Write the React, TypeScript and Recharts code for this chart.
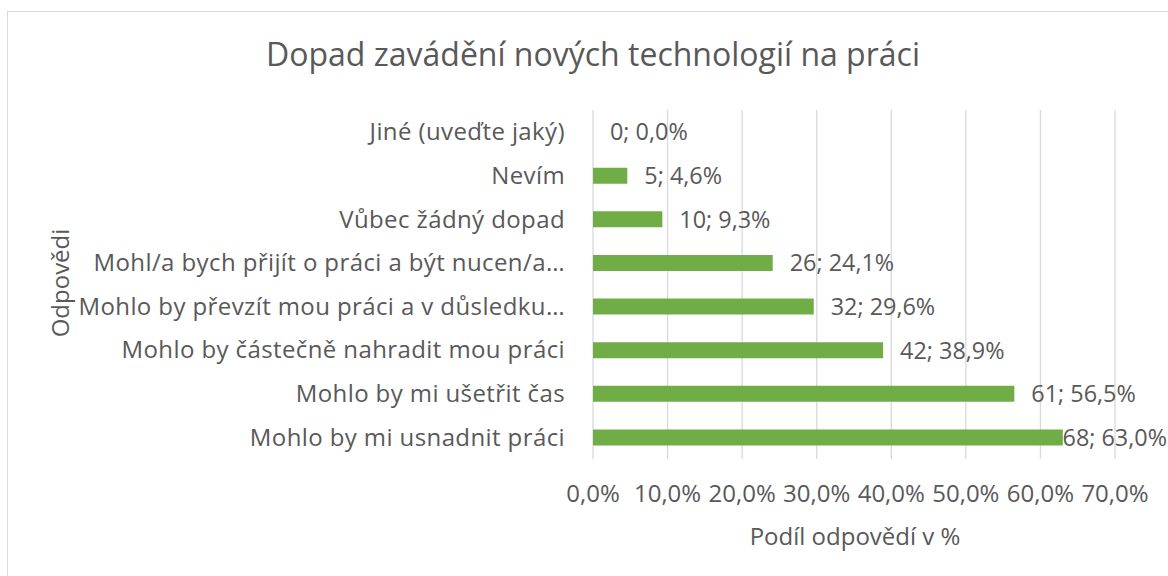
import React from 'react';
import { BarChart, Bar, XAxis, YAxis, CartesianGrid, LabelList } from 'recharts';

const categories = [
  'Jiné (uveďte jaký)',
  'Nevím',
  'Vůbec žádný dopad',
  'Mohl/a bych přijít o práci a být nucen/a…',
  'Mohlo by převzít mou práci a v důsledku…',
  'Mohlo by částečně nahradit mou práci',
  'Mohlo by mi ušetřit čas',
  'Mohlo by mi usnadnit práci',
];
const counts = [0, 5, 10, 26, 32, 42, 61, 68];
const percents = [0, 4.6, 9.3, 24.1, 29.6, 38.9, 56.5, 63.0];
const xTicks = [0, 10, 20, 30, 40, 50, 60, 70];

const title = 'Dopad zavádění nových technologií na práci';
const xTitle = 'Podíl odpovědí v %';
const yTitle = 'Odpovědi';

const data = categories.map((name, i) => ({ name, pct: percents[i], count: counts[i] }));

const FONT = "'Open Sans', sans-serif";
const TEXT = '#595959';
const GRID = '#d9d9d9';
const BAR = '#70ad47';
const LABEL_MAX_END = 1167;
const LABEL_APPROX_W = 104;

const fmtPct = (v: number) => v.toFixed(1).replace('.', ',') + '%';

const ValueLabel = (props: any) => {
  const { x, y, width, height, index } = props;
  const natural = Number(x) + Number(width) + 17;
  const overflow = natural + LABEL_APPROX_W > LABEL_MAX_END;
  const ty = Number(y) + Number(height) / 2;
  return (
    <text
      x={overflow ? LABEL_MAX_END : natural}
      y={ty}
      dy="0.36em"
      fill={TEXT}
      fontSize={23.4}
      fontFamily={FONT}
      textAnchor={overflow ? 'end' : 'start'}
    >
      {`${counts[index]}; ${fmtPct(percents[index])}`}
    </text>
  );
};

export default function App() {
  return (
    <div style={{ position: 'fixed', left: 0, top: 0, width: 1168, height: 576, overflow: 'hidden', background: '#fff' }}>
      <div style={{ position: 'absolute', left: 7, top: 11, width: 1300, height: 700, border: `1px solid ${GRID}`, boxSizing: 'border-box' }} />
      <div style={{ position: 'absolute', left: 0, top: 0 }}>
        <BarChart
          width={1168}
          height={576}
          data={data}
          layout="vertical"
          margin={{ top: 110, right: 53, bottom: 77, left: 20 }}
          barSize={16}
        >
          <CartesianGrid horizontal={false} vertical={true} stroke={GRID} strokeWidth={1.3} />
          <XAxis
            type="number"
            domain={[0, 70]}
            ticks={xTicks}
            interval={0}
            tickFormatter={(v: number) => fmtPct(v)}
            axisLine={false}
            tickLine={false}
            tickSize={0}
            tickMargin={26}
            height={40}
            tick={{ fill: TEXT, fontSize: 24, fontFamily: FONT }}
          />
          <YAxis
            type="category"
            dataKey="name"
            width={573}
            axisLine={false}
            tickLine={false}
            tickSize={0}
            tickMargin={28}
            interval={0}
            tick={{ fill: TEXT, fontSize: 24, fontFamily: FONT, letterSpacing: 0.4 }}
          />
          <Bar dataKey="pct" fill={BAR} isAnimationActive={false} minPointSize={0.01}>
            <LabelList dataKey="pct" content={ValueLabel} />
          </Bar>
        </BarChart>
      </div>
      <svg width={1168} height={576} style={{ position: 'absolute', left: 0, top: 0, pointerEvents: 'none' }}>
        <text x={593} y={66} textAnchor="middle" fill={TEXT} fontSize={32} fontFamily={FONT}>{title}</text>
        <text x={855} y={545} textAnchor="middle" fill={TEXT} fontSize={24} fontFamily={FONT}>{xTitle}</text>
        <text x={69} y={283} textAnchor="middle" fill={TEXT} fontSize={24} fontFamily={FONT} transform="rotate(-90 69 283)">{yTitle}</text>
      </svg>
    </div>
  );
}
